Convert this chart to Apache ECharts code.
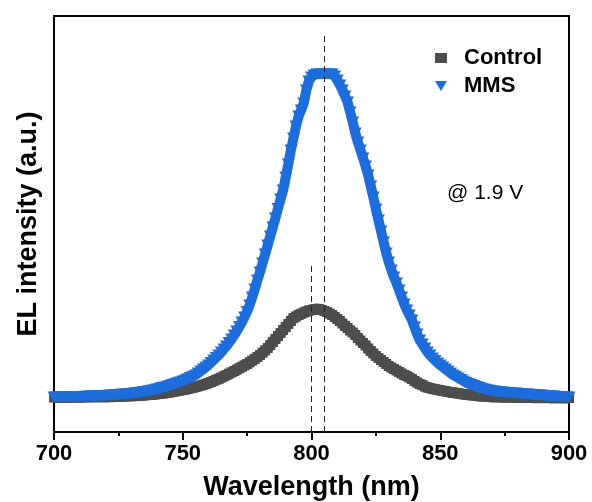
<!DOCTYPE html>
<html>
<head>
<meta charset="utf-8">
<script src="https://cdn.jsdelivr.net/npm/echarts@6/dist/echarts.min.js"></script>
<style>
  html, body { margin: 0; padding: 0; background: #fff; }
  #chart { width: 592px; height: 502px; }
</style>
</head>
<body>
<div id="chart"></div>
<script>
// Wavelength sampling grid (nm), 1 nm steps from 700 to 900
const wavelength = Array.from({ length: 201 }, (_, i) => 700 + i);

// EL intensity (a.u.) of the control device, one value per nm
const control = [
  345,345,345,346,346,346,347,347,347,348,
  348,348,349,349,349,350,350,350,350,350,
  350,351,352,353,354,355,356,357,358,359,
  360,361,363,365,366,368,370,372,374,377,
  380,383,386,389,393,397,401,406,411,416,
  420,426,432,438,444,450,457,465,473,481,
  490,500,511,522,533,545,557,570,583,596,
  610,624,638,652,666,680,697,714,731,750,
  770,793,816,840,870,900,930,960,990,1020,
  1050,1080,1110,1140,1155,1170,1182,1195,1205,1215,
  1220,1225,1230,1228,1220,1210,1200,1185,1170,1150,
  1130,1110,1085,1060,1040,1015,995,970,940,915,
  890,865,835,810,785,760,740,720,700,680,
  660,645,630,615,600,585,570,560,545,530,
  510,495,480,470,455,445,440,432,427,422,
  417,412,407,402,398,394,390,386,382,378,
  375,372,369,366,363,360,358,356,354,352,
  350,350,349,349,348,348,347,347,346,346,
  345,345,345,344,344,344,343,343,343,342,
  342,342,342,341,341,341,341,340,340,340,
  340
];

// EL intensity (a.u.) of the MMS device, one value per nm
const mms = [
  350,350,350,350,352,352,353,353,354,354,
  355,356,357,358,359,360,361,362,363,364,
  365,367,369,371,373,375,377,379,381,383,
  385,389,392,396,400,404,408,412,417,423,
  430,437,444,451,458,466,474,483,492,501,
  510,521,533,545,558,571,590,610,630,650,
  670,695,720,745,770,800,830,860,895,930,
  970,1010,1055,1100,1150,1205,1270,1350,1430,1520,
  1600,1690,1780,1870,1960,2050,2140,2235,2330,2420,
  2550,2680,2820,2940,3060,3160,3220,3290,3420,3510,
  3550,3570,3580,3580,3580,3580,3580,3580,3580,3560,
  3520,3470,3420,3360,3300,3200,3100,2990,2900,2820,
  2740,2660,2570,2460,2350,2230,2120,2010,1900,1790,
  1700,1620,1550,1490,1420,1350,1280,1220,1170,1120,
  1050,980,920,880,840,800,770,740,715,690,
  670,650,630,610,590,570,555,540,525,510,
  495,485,475,465,455,445,437,430,423,418,
  413,409,405,402,400,398,395,393,391,389,
  387,385,383,381,379,377,375,373,371,369,
  367,365,363,361,359,357,355,354,353,352,
  350
];

const seriesNames = ['Control', 'MMS'];
const xTicks = [700, 750, 800, 850, 900];

// Peak-position guides: wavelength and upper end of each dashed line
const peakX = [800, 805];
const peakTop = [1670, 3970];

const annotation = '@ 1.9 V';

const FONT = "'Liberation Sans', Arial, sans-serif";
const GRAY = '#4d4d4d';
const BLUE = '#1c6ddd';
const DOWN_TRI = 'path://M0,0L12,0L6,10Z';

const pairs = (ys) => wavelength.map((x, i) => [x, ys[i]]);

const chart = echarts.init(document.getElementById('chart'), null, { renderer: 'canvas' });

chart.setOption({
  animation: false,
  backgroundColor: '#fff',
  grid: {
    left: 54, right: 23, top: 16, bottom: 70,
    outerBoundsMode: 'none',
    show: true, borderColor: '#000', borderWidth: 2, backgroundColor: 'transparent'
  },
  legend: {
    orient: 'vertical',
    left: 430, top: 42,
    itemWidth: 12, itemHeight: 10, itemGap: 6,
    textStyle: { fontFamily: FONT, fontSize: 22, fontWeight: 'bold', color: '#000', padding: [0, 0, 0, 12] },
    data: [
      { name: seriesNames[0], icon: 'rect', itemStyle: { color: GRAY } },
      { name: seriesNames[1], icon: DOWN_TRI, itemStyle: { color: BLUE } }
    ]
  },
  xAxis: {
    type: 'value',
    min: xTicks[0], max: xTicks[xTicks.length - 1], interval: 50,
    name: 'Wavelength (nm)',
    nameLocation: 'middle', nameGap: 42,
    nameTextStyle: { fontFamily: FONT, fontSize: 27, fontWeight: 'bold', color: '#000' },
    axisLine: { lineStyle: { color: '#000', width: 2 } },
    axisTick: { length: 8, lineStyle: { color: '#000', width: 2 } },
    minorTick: { show: true, splitNumber: 2, length: 4, lineStyle: { color: '#000', width: 2 } },
    axisLabel: { fontFamily: FONT, fontSize: 22, fontWeight: 'bold', color: '#000', margin: 11 },
    splitLine: { show: false }
  },
  yAxis: {
    type: 'value',
    min: 0, max: 4160,
    name: 'EL intensity (a.u.)',
    nameLocation: 'middle', nameGap: 12,
    nameTextStyle: { fontFamily: FONT, fontSize: 27, fontWeight: 'bold', color: '#000' },
    axisLine: { show: true, lineStyle: { color: '#000', width: 2 } },
    axisTick: { show: false },
    axisLabel: { show: false },
    splitLine: { show: false }
  },
  series: [
    {
      name: seriesNames[0],
      type: 'line',
      data: pairs(control),
      symbol: 'rect', symbolSize: 10,
      lineStyle: { color: GRAY, width: 11 },
      itemStyle: { color: GRAY },
      z: 2
    },
    {
      name: seriesNames[1],
      type: 'line',
      data: pairs(mms),
      symbol: DOWN_TRI, symbolSize: [13, 11],
      lineStyle: { color: BLUE, width: 10 },
      itemStyle: { color: BLUE },
      z: 3,
      markLine: {
        silent: true,
        symbol: ['none', 'none'],
        label: { show: false },
        lineStyle: { color: '#222', width: 1, type: [6, 4] },
        data: peakX.map((x, i) => [{ coord: [x, 0] }, { coord: [x, peakTop[i]] }])
      }
    }
  ],
  graphic: [
    {
      type: 'text', left: 447, top: 183,
      style: { text: annotation, fontFamily: FONT, fontSize: 21, fill: '#000' }
    }
  ]
});
</script>
</body>
</html>
